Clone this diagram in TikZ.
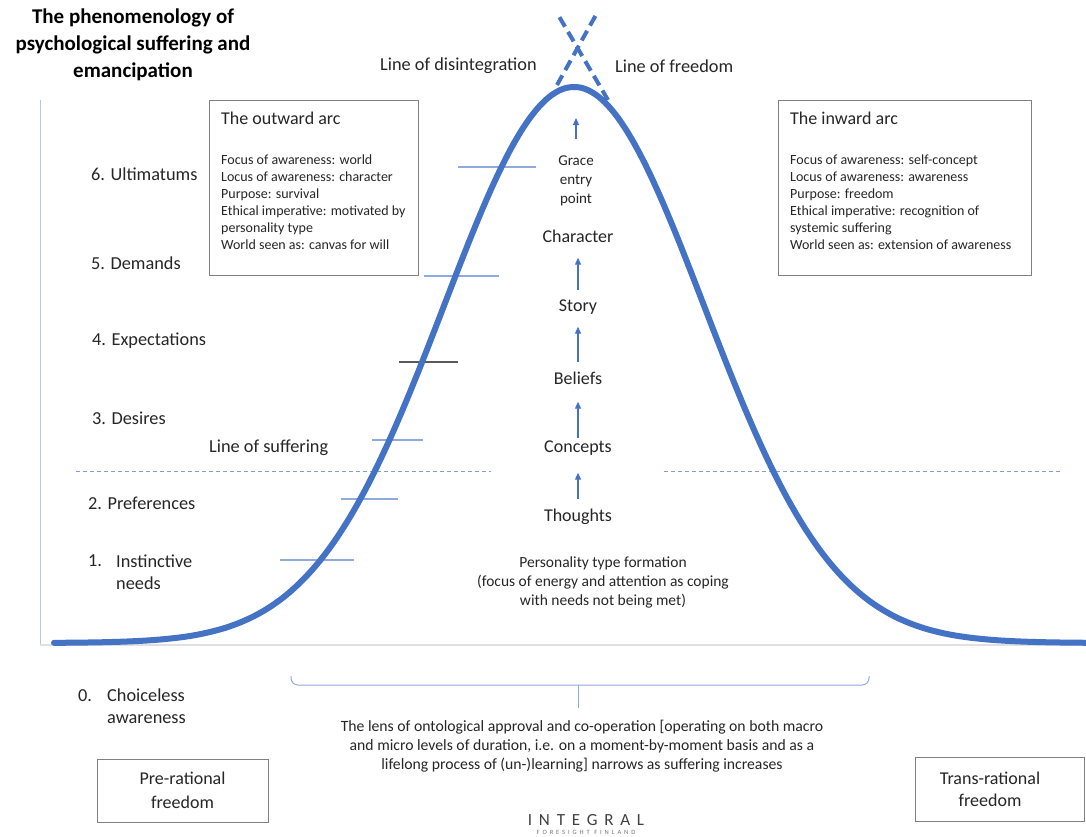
\documentclass[tikz,border=0pt]{standalone}
\usepackage{fontspec}
\setmainfont{Carlito}
\usetikzlibrary{arrows.meta,calc}
\definecolor{curveblue}{HTML}{4472C4}
\definecolor{tickblue}{HTML}{8FAADC}
\definecolor{dashblue}{HTML}{7F9FD0}
\definecolor{axisblue}{HTML}{B4C7E7}
\definecolor{boxgrey}{HTML}{808080}
\definecolor{inkgrey}{HTML}{262626}
\begin{document}
\begin{tikzpicture}[x=1pt,y=-1pt]
    \tikzstyle{lbl}=[inner sep=0pt,anchor=west,text=inkgrey,font=\fontsize{18.3}{22}\selectfont]
    \tikzstyle{stack}=[inner sep=0pt,text=inkgrey,font=\fontsize{18}{22}\selectfont,text height=13pt,text depth=4pt]
    \tikzstyle{arctitle}=[inner sep=0pt,anchor=west,text=inkgrey,font=\fontsize{18}{22}\selectfont]
    \tikzstyle{arcbody}=[inner sep=0pt,anchor=west,align=left,text=inkgrey,font=\fontsize{14}{17}\selectfont]
    \tikzstyle{arcbox}=[draw=boxgrey,line width=0.9pt,inner sep=0pt,anchor=north west]
    \tikzstyle{endbox}=[draw=boxgrey,line width=0.9pt,inner sep=0pt]
    \tikzstyle{endtext}=[inner sep=0pt,align=center,text=inkgrey,font=\fontsize{18}{24}\selectfont]
    \tikzstyle{tickmark}=[draw=tickblue,line width=1.2pt]
    \tikzstyle{climb}=[draw=curveblue,line width=1.1pt,-{Triangle[length=7pt,width=6pt]},shorten <=9pt,shorten >=11pt]
    \useasboundingbox[fill=white] (0,0) rectangle (1086,836);
    \node[inner sep=0pt,align=center,font=\fontsize{21}{27}\selectfont\bfseries] (title) at (133,45) {The phenomenology of\\psychological suffering and\\emancipation};
    \draw[axisblue,line width=1pt] (40,100) -- (40,645);
    \draw[black!12,line width=1.5pt] (40,645) -- (1086,645);
    \draw[dashblue,line width=0.8pt,dash pattern=on 4pt off 3pt] (76,471) -- (491,471);
    \draw[dashblue,line width=0.8pt,dash pattern=on 4pt off 3pt] (664,471) -- (1060,471);
    \draw[tickmark] (280,560) -- (354,560);
    \draw[tickmark] (341,499) -- (398,499);
    \draw[tickmark] (372,440) -- (423,440);
    \draw[tickmark,draw=black!65] (399,362) -- (458,362);
    \draw[tickmark] (424,276) -- (499,276);
    \draw[tickmark] (458,167) -- (536,167);
    \draw[curveblue,line width=6pt,line cap=round] plot[smooth,domain=54:1086,samples=140] (\x,{643-556*exp(-0.5*((\x-574)/130)^2)});
    \coordinate (dis_lo) at (557,85);
    \coordinate (dis_hi) at (597,13);
    \coordinate (free_lo) at (608,100);
    \coordinate (free_hi) at (557,13);
    \draw[curveblue,line width=4pt,dash pattern=on 11pt off 6pt] (dis_lo) -- (dis_hi);
    \draw[curveblue,line width=4pt,dash pattern=on 11pt off 6pt] (free_lo) -- (free_hi);
    \node[lbl] (dis_txt) at (380,66) {Line of disintegration};
    \node[lbl] (free_txt) at (615,66) {Line of freedom};
    \node[arcbox,minimum width=209pt,minimum height=175pt] (outbox) at (209,100) {};
    \node[arctitle] (out_t) at (221,118) {The outward arc};
    \node[arcbody] (out_b) at (221,202.5) {Focus of awareness: world\\Locus of awareness: character\\Purpose: survival\\Ethical imperative: motivated by\\personality type\\World seen as: canvas for will};
    \node[arcbox,minimum width=253pt,minimum height=175pt] (inbox) at (778,100) {};
    \node[arctitle] (in_t) at (790,118) {The inward arc};
    \node[arcbody] (in_b) at (790,202.5) {Focus of awareness: self-concept\\Locus of awareness: awareness\\Purpose: freedom\\Ethical imperative: recognition of\\systemic suffering\\World seen as: extension of awareness};
    \node[lbl] (lvl_6) at (91,174) {6. Ultimatums};
    \node[lbl] (lvl_5) at (91,263) {5. Demands};
    \node[lbl] (lvl_4) at (92,341) {4. Expectations};
    \node[lbl] (lvl_3) at (92,418) {3. Desires};
    \node[lbl] (suffer) at (209,448) {Line of suffering};
    \node[lbl] (lvl_2) at (88,503) {2. Preferences};
    \node[lbl] (lvl_1) at (88,561) {1.};
    \node[lbl,align=left] (lvl_1t) at (116,572) {Instinctive\\needs};
    \node[lbl] (lvl_0) at (78,696) {0.};
    \node[lbl,align=left] (lvl_0t) at (107,706) {Choiceless\\awareness};
    \node[stack] (thoughts) at (578,517) {Thoughts};
    \node[stack] (concepts) at (578,448) {Concepts};
    \node[stack] (beliefs) at (578,380) {Beliefs};
    \node[stack] (story) at (578,307) {Story};
    \node[stack] (character) at (578,238) {Character};
    \node[inner sep=0pt,align=center,text=inkgrey,font=\fontsize{15}{19}\selectfont] (grace) at (576,181) {Grace\\entry\\point};
    \coordinate (grace_tip) at (576,118);
    \draw[climb,shorten >=16pt] (thoughts) -- (concepts);
    \draw[climb,shorten <=1pt,shorten >=13pt] (concepts) -- (beliefs);
    \draw[climb] (beliefs) -- (story);
    \draw[climb,shorten <=8pt] (story) -- (character);
    \draw[climb,shorten <=17pt,shorten >=0pt] (grace) -- (grace_tip);
    \node[inner sep=0pt,align=center,text=inkgrey,font=\fontsize{15.5}{19}\selectfont] (persona) at (603,582) {Personality type formation\\(focus of energy and attention as coping\\with needs not being met)};
    \draw[tickblue,line width=1pt,rounded corners=7pt] (291,676) |- (869,685) -- (869,676);
    \coordinate (lens_top) at (578,685);
    \node[inner sep=0pt,align=center,text=inkgrey,font=\fontsize{15.7}{19}\selectfont] (lens) at (582,746) {The lens of ontological approval and co-operation [operating on both macro\\and micro levels of duration, i.e. on a moment-by-moment basis and as a\\lifelong process of (un-)learning] narrows as suffering increases};
    \draw[tickblue,line width=1pt] (lens_top) -- (578,708);
    \node[endbox,minimum width=171pt,minimum height=63pt] (prerat) at (182.5,790.5) {};
    \node[endtext] (prerat_t) at (182.5,790) {Pre-rational\\freedom};
    \node[endbox,minimum width=169pt,minimum height=64pt] (transrat) at (999.5,789) {};
    \node[endtext,font=\fontsize{18}{22}\selectfont] (transrat_t) at (990,789) {Trans-rational\\freedom};
    \node[inner sep=0pt,text=black!75,font=\fontsize{17}{17}\selectfont\addfontfeature{LetterSpace=40}] (logo) at (586,820) {INTEGRAL};
    \node[inner sep=0pt,text=black!55,font=\fontsize{6.5}{7}\selectfont\addfontfeature{LetterSpace=45}] (logo_sub) at (586,832) {FORESIGHT FINLAND};
\end{tikzpicture}
\end{document}
